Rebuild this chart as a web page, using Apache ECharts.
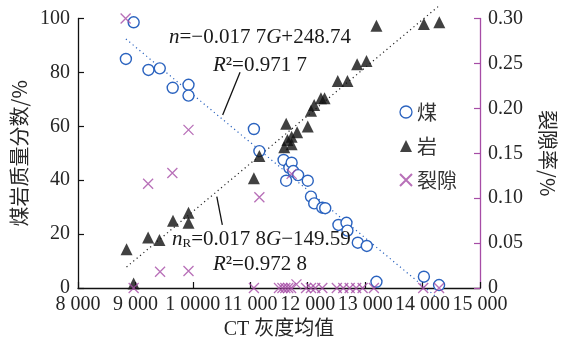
<!DOCTYPE html>
<html><head><meta charset="utf-8">
<script src="https://cdn.jsdelivr.net/npm/echarts@6/dist/echarts.min.js"></script>
<style>html,body{margin:0;padding:0;background:#fff}#c{width:566px;height:345px}</style>
</head><body><div id="c"></div>
<script>
// ---- data ----
const xTickLabels = ['8 000','9 000','1 0000','11 000','12 000','13 000','14 000','15 000'];
const leftTickLabels = ['0','20','40','60','80','100'];
const rightTickLabels = ['0','0.05','0.10','0.15','0.20','0.25','0.30'];

const coalX = [8834,8969,9227,9424,9649,9924,9924,11063,11158,11580,11680,11720,11748,11833,11624,12001,12057,12113,12254,12305,12535,12675,12692,12872,13029,13197,14023,14287];
const coalY = [85.0,98.6,80.9,81.5,74.3,75.4,71.4,59.0,50.8,47.5,44.6,46.5,43.4,41.9,39.8,39.8,33.9,31.4,29.8,29.6,23.4,24.2,21.3,16.8,15.6,2.3,4.2,1.1];

const rockX = [8846,8969,9221,9418,9654,9924,9924,11063,11158,11591,11647,11720,11720,11816,11625,12001,12057,12113,12230,12293,12523,12692,12860,13024,13197,14023,14292];
const rockY = [14.4,1.7,18.7,17.8,25.0,27.9,24.2,40.7,49.0,52.2,54.9,53.3,56.1,57.8,60.9,59.9,65.8,67.9,70.4,70.4,76.8,76.8,83.0,84.2,97.3,98.0,98.6];

const crackX = [8829,8969,9221,9429,9643,9924,9924,11063,11158,11720,11500,11560,11610,11660,11710,11804,11972,12057,12131,12254,12507,12619,12731,12843,12956,13152,14011,14287];
const crackY = [0.30,0,0.116,0.018,0.128,0.176,0.019,0,0.101,0.127,0,0,0,0,0,0.004,0,0,0,0,0,0,0,0,0,0,0,0];

// fitted lines (endpoints)
const coalFitX = [8834,14220];
const coalFitY = [92.4,-3.0];
const rockFitX = [8845,14275];
const rockFitY = [7.8,104.5];

// leader lines of the annotations
const leaderTopX = [10519,10822];
const leaderTopY = [64.2,80.1];
const leaderBotX = [10417,10513];
const leaderBotY = [33.9,23.4];

const seriesNames = ['煤','岩','裂隙'];

// ---- chart ----
const zip = (a,b)=>a.map((v,i)=>[v,b[i]]);
const SERIF = '"Liberation Serif","Times New Roman",serif';
const CJK = '"Noto Sans CJK SC",sans-serif';
const TXT = '#262626';
const BLUE = '#2b63bf';
const PURPLE = '#a64ca6';
const crossPath = 'path://M0,0L10,10M10,0L0,10';

const chart = echarts.init(document.getElementById('c'), null, {renderer:'canvas'});
chart.setOption({
  animation:false,
  backgroundColor:'#fff',
  grid:{left:78,right:73,top:18.5,bottom:57,containLabel:false},
  legend:{
    orient:'vertical', left:394, top:97, itemGap:14, itemWidth:12, itemHeight:12,
    textStyle:{fontFamily:CJK,fontSize:20,color:'#333'},
    data:[
      {name:'煤',icon:'circle',itemStyle:{borderWidth:1.3}},
      {name:'岩',icon:'triangle'},
      {name:'裂隙',icon:crossPath}
    ]
  },
  xAxis:{
    type:'value',min:8000,max:15000,interval:1000,
    name:'CT 灰度均值',nameLocation:'middle',nameGap:31,
    nameTextStyle:{fontFamily:SERIF+','+CJK,fontSize:20,color:TXT},
    axisLine:{lineStyle:{color:'#111',width:1.3}},
    axisTick:{inside:true,length:6,lineStyle:{color:'#111',width:1.2}},
    axisLabel:{fontFamily:SERIF,fontSize:20,color:TXT,margin:7,
      formatter:(v)=>xTickLabels[Math.round((v-8000)/1000)]},
    splitLine:{show:false}
  },
  yAxis:[
    {type:'value',min:0,max:100,interval:20,position:'left',
      name:'煤岩质量分数/%',nameLocation:'middle',nameGap:44,nameRotate:90,
      nameTextStyle:{fontFamily:CJK,fontSize:20,color:TXT},
      axisLine:{show:true,lineStyle:{color:'#111',width:1.3}},
      axisTick:{show:true,inside:true,length:6,lineStyle:{color:'#111',width:1.2}},
      axisLabel:{fontFamily:SERIF,fontSize:20,color:TXT,margin:8,
        formatter:(v)=>leftTickLabels[Math.round(v/20)]},
      splitLine:{show:false}
    },
    {type:'value',min:0,max:0.3,interval:0.05,position:'right',
      name:'裂隙率/%',nameLocation:'middle',nameGap:58,nameRotate:-90,
      nameTextStyle:{fontFamily:CJK,fontSize:20,color:TXT},
      axisLine:{show:true,lineStyle:{color:PURPLE,width:1.3}},
      axisTick:{show:true,inside:true,length:6,lineStyle:{color:PURPLE,width:1.2}},
      axisLabel:{fontFamily:SERIF,fontSize:20,color:TXT,margin:8,
        formatter:(v)=>rightTickLabels[Math.round(v/0.05)]},
      splitLine:{show:false}
    }
  ],
  series:[
    {name:'coalFit',type:'line',data:zip(coalFitX,coalFitY),symbol:'none',clip:false,silent:true,
      lineStyle:{color:BLUE,width:1.2,type:[1.2,3.2]},z:1},
    {name:'rockFit',type:'line',data:zip(rockFitX,rockFitY),symbol:'none',clip:false,silent:true,
      lineStyle:{color:'#222',width:1.2,type:[1.2,3.2]},z:1},
    {name:'leader1',type:'line',data:zip(leaderTopX,leaderTopY),symbol:'none',silent:true,
      lineStyle:{color:'#111',width:1.3},z:1},
    {name:'leader2',type:'line',data:zip(leaderBotX,leaderBotY),symbol:'none',silent:true,
      lineStyle:{color:'#111',width:1.3},z:1},
    {name:seriesNames[0],type:'scatter',data:zip(coalX,coalY),symbol:'circle',symbolSize:11,
      itemStyle:{color:'#fff',opacity:1,borderColor:BLUE,borderWidth:1.4},z:3},
    {name:seriesNames[1],type:'scatter',data:zip(rockX,rockY),symbol:'triangle',symbolSize:12,
      itemStyle:{color:'#111'},z:4},
    {name:seriesNames[2],type:'scatter',yAxisIndex:1,data:zip(crackX,crackY),symbol:crossPath,symbolSize:10,
      itemStyle:{color:PURPLE,borderColor:PURPLE,borderWidth:1.3},z:5}
  ],
  graphic:[
    {type:'text',left:169,top:27,z:10,style:{
      text:'{i|n}=−0.017 7{i|G}+248.74',
      font:'21px '+SERIF,fill:'#1a1a1a',
      rich:{i:{fontStyle:'italic',fontFamily:SERIF,fontSize:21}}}},
    {type:'text',left:213,top:55,z:10,style:{
      text:'{i|R}²=0.971 7',font:'21px '+SERIF,fill:'#1a1a1a',
      rich:{i:{fontStyle:'italic',fontFamily:SERIF,fontSize:21}}}},
    {type:'text',left:172,top:229,z:10,style:{
      text:'{i|n}{s|R}=0.017 8{i|G}−149.59',font:'21px '+SERIF,fill:'#1a1a1a',
      rich:{i:{fontStyle:'italic',fontFamily:SERIF,fontSize:21},
            s:{fontFamily:SERIF,fontSize:13,verticalAlign:'bottom',lineHeight:16}}}},
    {type:'text',left:213,top:254,z:10,style:{
      text:'{i|R}²=0.972 8',font:'21px '+SERIF,fill:'#1a1a1a',
      rich:{i:{fontStyle:'italic',fontFamily:SERIF,fontSize:21}}}}
  ]
});
</script></body></html>
